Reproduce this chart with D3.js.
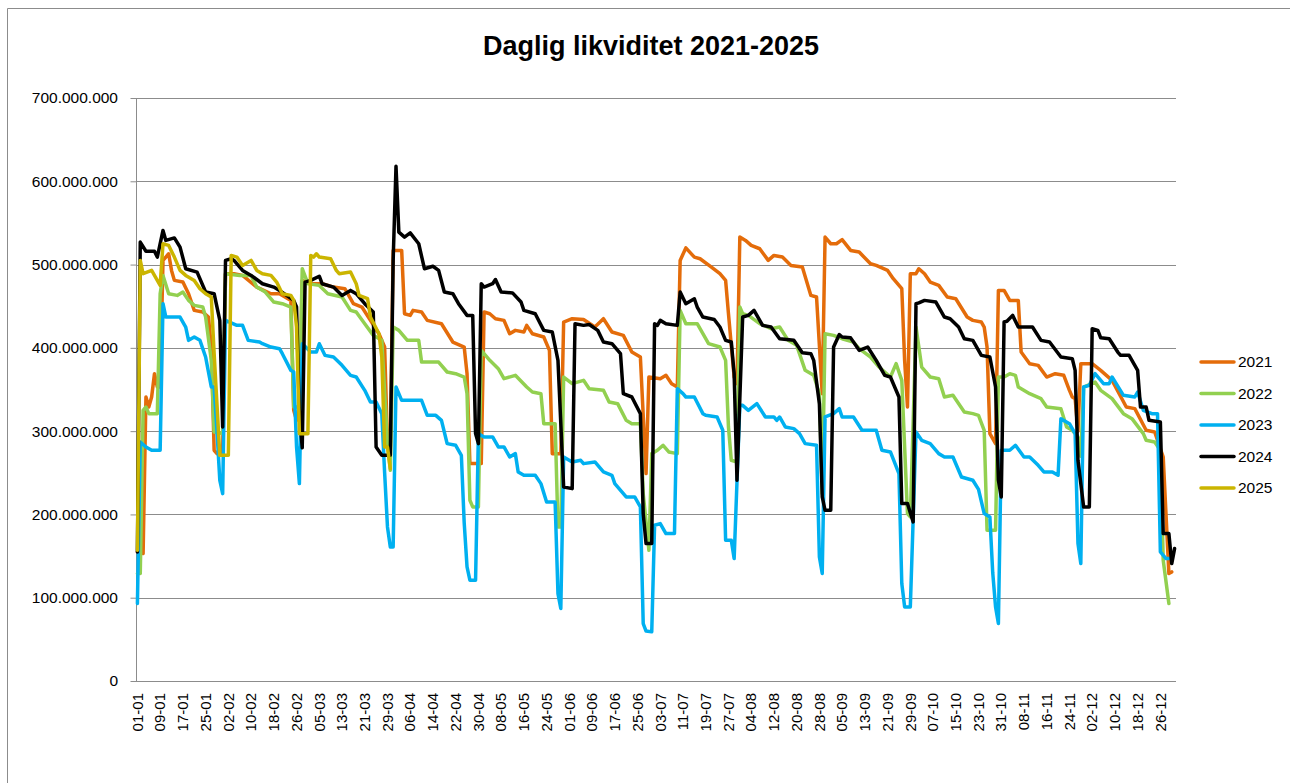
<!DOCTYPE html>
<html>
<head>
  <title>Daglig likviditet 2021-2025</title>
  <script src="https://d3js.org/d3.v7.min.js"></script>
  <style>
    html, body { margin: 0; padding: 0; background: #fff; overflow: hidden; }
    svg { display: block; }
    .grid line { stroke: #8c8c8c; stroke-width: 1; }
    .axis path, .axis line { stroke: #8c8c8c; }
    .series { fill: none; stroke-width: 3.5; stroke-linejoin: round; stroke-linecap: round; }
  </style>
</head>
<body>
  <svg class="chart" width="1290" height="783" font-family="Liberation Sans, Arial, sans-serif"></svg>

  <script>
    // values in millions as [day of year, value]
    const years = ["2021", "2022", "2023", "2024", "2025"];
    const colors = ["#e46c0a", "#92d050", "#00b0f0", "#000000", "#cbb500"];

    const s2021 = [[0,155],[2,153],[3,341],[4,329],[5,341],[6,369],[7,353],[8,353],[9,505],[11,513],[12,493],[13,481],[16,479],[18,465],[20,445],[23,443],[25,437],[26,401],[27,277],[28,273],[30,275],[31,489],[34,489],[37,487],[42,473],[47,465],[50,465],[54,457],[55,325],[56,313],[57,330],[58,481],[61,477],[65,477],[69,473],[73,471],[76,453],[79,449],[82,433],[85,417],[87,401],[88,285],[89,281],[90,517],[93,517],[94,441],[96,439],[97,445],[100,443],[102,433],[107,429],[111,407],[115,401],[116,369],[117,261],[121,261],[122,443],[124,441],[126,435],[129,433],[131,417],[133,421],[136,419],[137,427],[139,417],[143,413],[145,397],[146,273],[149,273],[150,431],[153,435],[157,434],[161,425],[164,435],[167,419],[171,415],[174,395],[177,389],[179,249],[180,365],[184,363],[186,367],[188,357],[190,353],[191,505],[193,520],[196,509],[198,507],[202,497],[205,489],[207,481],[208,441],[210,365],[211,357],[212,533],[214,529],[216,523],[219,519],[222,505],[224,511],[227,509],[230,499],[234,497],[237,463],[239,461],[241,345],[242,533],[244,525],[246,525],[248,530],[251,517],[254,515],[258,501],[260,499],[264,493],[266,483],[269,471],[270,385],[271,329],[272,489],[274,489],[275,495],[277,489],[279,479],[282,475],[285,461],[288,459],[292,437],[294,433],[297,431],[298,425],[299,401],[300,297],[302,285],[303,469],[305,469],[307,457],[310,457],[311,395],[314,381],[317,379],[320,365],[323,369],[326,367],[328,349],[329,341],[330,339],[331,300],[332,381],[336,381],[339,373],[343,361],[348,329],[351,327],[355,301],[358,299],[361,269],[363,129],[364,131]];

    const s2022 = [[0,129],[1,129],[2,325],[3,329],[4,321],[7,321],[8,465],[9,487],[11,465],[14,463],[16,467],[18,457],[20,451],[23,449],[24,437],[26,385],[27,299],[30,297],[31,489],[36,487],[40,487],[42,473],[45,467],[48,455],[51,453],[54,449],[55,329],[57,329],[58,495],[60,477],[64,475],[67,465],[72,461],[75,445],[77,443],[80,429],[83,415],[86,409],[88,285],[89,253],[90,425],[92,421],[95,409],[99,409],[100,383],[106,383],[109,371],[112,369],[115,365],[116,345],[117,217],[118,209],[120,209],[121,397],[124,385],[127,375],[129,363],[133,367],[137,353],[139,347],[142,345],[143,309],[147,309],[148,185],[149,185],[150,365],[153,357],[157,361],[159,351],[164,349],[166,335],[169,333],[172,313],[174,309],[177,309],[178,225],[180,157],[181,273],[183,277],[185,283],[187,275],[190,273],[191,445],[193,429],[197,429],[199,417],[201,405],[205,401],[207,385],[208,305],[209,265],[211,263],[212,449],[213,441],[215,439],[219,429],[223,423],[226,425],[229,409],[232,403],[235,373],[238,367],[240,345],[241,225],[242,417],[245,415],[248,411],[252,407],[254,399],[258,389],[261,377],[265,365],[267,381],[269,361],[271,201],[272,197],[274,425],[276,377],[279,365],[282,363],[284,341],[287,343],[291,323],[294,321],[296,319],[298,301],[299,181],[302,181],[303,365],[305,365],[307,369],[309,367],[310,353],[314,345],[318,339],[320,329],[325,327],[327,305],[329,301],[331,293],[332,270],[333,353],[337,359],[339,349],[343,339],[347,321],[350,315],[354,297],[355,289],[358,287],[360,277],[361,145],[363,93]];

    const s2023 = [[0,93],[1,287],[3,281],[5,277],[8,277],[9,453],[10,437],[15,437],[17,425],[18,409],[20,413],[22,409],[24,389],[26,353],[27,353],[28,300],[29,241],[30,225],[31,433],[35,427],[37,427],[39,409],[43,407],[44,405],[47,401],[50,399],[51,393],[54,373],[55,371],[56,281],[57,237],[58,405],[61,395],[63,395],[64,405],[66,391],[69,389],[72,379],[75,367],[77,365],[80,349],[82,335],[84,335],[86,321],[87,250],[88,185],[89,161],[90,161],[91,353],[93,337],[100,337],[102,319],[105,319],[107,313],[109,285],[112,283],[114,271],[115,190],[116,137],[117,121],[119,121],[120,297],[122,293],[125,293],[127,281],[129,281],[131,269],[133,273],[134,251],[136,247],[140,247],[142,237],[144,215],[147,215],[148,105],[149,87],[150,269],[153,263],[156,265],[157,261],[161,263],[164,251],[167,247],[168,237],[172,221],[175,221],[177,209],[178,69],[179,60],[181,59],[182,187],[184,189],[186,177],[189,177],[190,351],[192,345],[193,341],[196,341],[199,321],[200,319],[204,317],[206,301],[207,169],[209,169],[210,147],[212,331],[213,331],[215,325],[218,333],[221,317],[224,317],[225,313],[226,317],[228,305],[231,303],[233,297],[235,285],[239,283],[240,149],[241,129],[242,317],[245,321],[247,327],[248,317],[252,317],[255,301],[260,301],[262,277],[265,275],[268,249],[269,117],[270,89],[272,89],[274,299],[276,289],[279,285],[282,273],[284,269],[287,269],[290,245],[294,241],[296,230],[298,201],[300,197],[301,130],[302,89],[303,69],[304,277],[307,277],[309,283],[312,269],[314,269],[317,259],[319,251],[322,251],[324,247],[325,315],[328,309],[330,297],[331,165],[332,141],[333,353],[335,355],[337,369],[340,357],[342,357],[343,365],[347,343],[351,341],[352,347],[354,325],[357,321],[359,321],[360,155],[362,147],[363,147]];

    const s2024 = [[0,155],[1,527],[3,516],[6,516],[7,509],[9,541],[10,529],[13,532],[15,521],[17,495],[21,491],[24,467],[27,465],[29,433],[30,305],[31,505],[33,507],[34,505],[37,493],[40,487],[44,477],[48,473],[50,469],[55,457],[56,449],[57,321],[58,280],[59,479],[61,481],[64,486],[65,477],[69,473],[72,463],[75,469],[77,465],[80,453],[83,443],[84,281],[86,271],[89,271],[90,505],[91,618],[92,539],[94,533],[96,538],[99,525],[101,495],[104,498],[106,493],[108,467],[111,465],[113,453],[116,439],[118,439],[119,297],[120,285],[121,477],[122,473],[125,477],[126,482],[128,467],[132,466],[135,455],[136,445],[140,441],[143,421],[146,419],[148,385],[150,233],[153,231],[154,429],[157,427],[159,428],[162,421],[164,407],[167,405],[170,393],[171,345],[174,341],[177,321],[178,201],[179,165],[181,165],[182,429],[183,427],[184,433],[186,429],[190,427],[191,467],[193,453],[196,459],[197,449],[199,437],[203,434],[205,425],[207,409],[209,407],[210,369],[211,241],[213,437],[215,439],[217,445],[220,427],[223,425],[226,411],[231,409],[234,394],[237,393],[238,385],[240,333],[241,221],[242,205],[244,205],[245,401],[247,416],[248,413],[251,412],[254,397],[257,401],[260,385],[263,367],[265,365],[268,341],[269,213],[271,213],[273,191],[274,453],[275,454],[277,457],[281,455],[284,437],[286,435],[289,425],[291,411],[294,409],[297,391],[300,389],[302,353],[303,241],[304,221],[305,431],[306,432],[308,439],[310,425],[315,425],[318,409],[321,407],[325,389],[329,387],[330,373],[331,265],[333,209],[335,209],[336,423],[338,421],[339,412],[342,411],[345,395],[346,391],[349,391],[352,373],[353,329],[355,329],[356,313],[360,311],[361,177],[363,177],[364,141],[365,159]];

    const s2025 = [[0,157],[1,505],[2,489],[5,493],[8,475],[9,525],[11,523],[13,509],[15,493],[17,487],[20,481],[22,471],[24,465],[26,461],[27,393],[29,271],[32,271],[33,511],[35,509],[37,499],[40,505],[42,493],[44,489],[47,487],[49,479],[51,465],[54,463],[55,457],[56,425],[57,297],[60,297],[61,511],[62,509],[63,513],[64,509],[68,507],[70,493],[71,489],[75,491],[77,477],[78,463],[81,459],[82,437],[85,417],[86,389],[87,281],[88,281],[89,255]];

    const seriesValues = [s2021, s2022, s2023, s2024, s2025];

    // tick labels
    const xLabels = ["01-01","09-01","17-01","25-01","02-02","10-02","18-02","26-02","05-03","13-03","21-03","29-03","06-04","14-04","22-04","30-04","08-05","16-05","24-05","01-06","09-06","17-06","25-06","03-07","11-07","19-07","27-07","04-08","12-08","20-08","28-08","05-09","13-09","21-09","29-09","07-10","15-10","23-10","31-10","08-11","16-11","24-11","02-12","10-12","18-12","26-12"];
    const yTicks = [0, 100, 200, 300, 400, 500, 600, 700];
    const dayCount = 366;

    const svg = d3.select("svg");
    const margin = { top: 98, right: 114, bottom: 102, left: 136 };
    const width = +svg.attr("width");
    const height = +svg.attr("height");
    const innerWidth = width - margin.left - margin.right;
    const innerHeight = height - margin.top - margin.bottom;

    // chart border: only its left and top edges fall inside the picture
    svg.append("path")
      .attr("d", `M7.5,${height}V8.5H${width}`)
      .attr("fill", "none").attr("stroke", "#8c8c8c");

    svg.append("text")
      .attr("x", 651).attr("y", 55)
      .attr("text-anchor", "middle")
      .attr("font-size", 27).attr("font-weight", "bold")
      .text("Daglig likviditet 2021-2025");

    const x = d3.scaleBand()
      .domain(d3.range(dayCount))
      .range([0, innerWidth]);

    const y = d3.scaleLinear()
      .domain([0, 700])
      .range([innerHeight, 0]);

    const nb = d3.formatLocale({ decimal: ",", thousands: ".", grouping: [3], currency: ["", ""] });
    const fmt = nb.format(",");

    const chart = svg.append("g")
      .attr("transform", `translate(${margin.left}, ${margin.top})`);

    // horizontal gridlines
    chart.append("g").attr("class", "grid")
      .selectAll("line")
      .data(yTicks.slice(1))
      .enter().append("line")
      .attr("x1", 0).attr("x2", innerWidth)
      .attr("y1", d => Math.round(y(d)) + 0.5)
      .attr("y2", d => Math.round(y(d)) + 0.5);

    // y axis: ticks from d3, labels placed with the scale
    const yAxis = chart.append("g").attr("class", "axis")
      .attr("transform", "translate(0.5,0)")
      .call(d3.axisLeft(y).tickValues(yTicks).tickSize(6).tickFormat(""));
    yAxis.select(".domain").attr("d", `M0,0V${innerHeight}`);

    svg.append("g")
      .attr("font-size", 15.5).attr("text-anchor", "end")
      .selectAll("text")
      .data(yTicks)
      .enter().append("text")
      .attr("x", margin.left - 18)
      .attr("y", d => margin.top + y(d))
      .attr("dy", "0.35em")
      .text(d => fmt(d * 1e6));

    // x axis line and category labels every 8th day
    const xAxis = chart.append("g").attr("class", "axis")
      .attr("transform", `translate(0, ${innerHeight + 0.5})`)
      .call(d3.axisBottom(x).tickValues([]).tickSize(0));
    xAxis.select(".domain").attr("d", `M0,0H${innerWidth}`);

    svg.append("g")
      .attr("font-size", 15).attr("text-anchor", "end")
      .selectAll("text")
      .data(xLabels)
      .enter().append("text")
      .attr("transform", (d, i) =>
        `translate(${margin.left + x(i * 8) + x.bandwidth() / 2}, ${margin.top + innerHeight + 12}) rotate(-90)`)
      .attr("dy", "0.35em")
      .text(d => d);

    // series lines
    const line = d3.line()
      .x(d => x(d[0]) + x.bandwidth() / 2)
      .y(d => y(d[1]));

    chart.selectAll(".series")
      .data(seriesValues)
      .enter().append("path")
      .attr("class", "series")
      .attr("stroke", (d, i) => colors[i])
      .attr("d", line);

    // legend
    const legend = svg.append("g").attr("transform", "translate(1200, 362)");
    const item = legend.selectAll("g")
      .data(years)
      .enter().append("g")
      .attr("transform", (d, i) => `translate(0, ${i * 31.5})`);
    item.append("line")
      .attr("x1", 1).attr("x2", 34)
      .attr("stroke", (d, i) => colors[i])
      .attr("stroke-width", 3.5).attr("stroke-linecap", "round");
    item.append("text")
      .attr("x", 38).attr("dy", "0.35em")
      .attr("font-size", 15.5)
      .text(d => d);
  </script>
</body>
</html>
